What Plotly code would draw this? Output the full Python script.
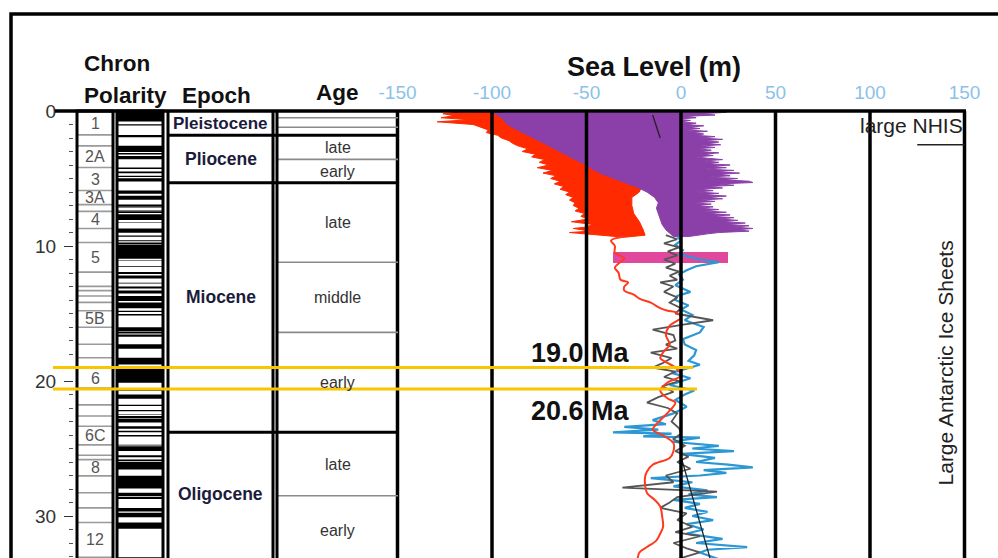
import plotly.graph_objects as go

W, H = 998, 558
FONT = "Liberation Sans, Arial, sans-serif"

# ---------------- data ----------------
# sea-level axis ticks (m)
sl_ticks = [-150, -100, -50, 0, 50, 100, 150]
sl_ticktext = ["-150", "-100", "-50", "0", "50", "100", "150"]
age_ticks = [0, 5, 10, 15, 20, 25, 30]
age_ticktext = ["0", "", "10", "", "20", "", "30"]
age_minor_ticks = list(range(0, 34))

# epochs (Ma)
epoch_names = ["Pleistocene", "Pliocene", "Miocene", "Oligocene"]
epoch_top = [0.0, 1.8, 5.32, 23.8]
epoch_base = [1.8, 5.32, 23.8, 33.7]
epoch_label_age = [0.9, 3.56, 13.8, 28.4]

# epoch subdivisions
sub_names = ["late", "early", "late", "middle", "early", "late", "early"]
sub_top = [1.8, 3.58, 5.32, 11.2, 16.4, 23.8, 28.5]
sub_base = [3.58, 5.32, 11.2, 16.4, 23.8, 28.5, 33.7]
pleistocene_lines = [0.5, 1.2]

# magnetic polarity: normal intervals (Ma)
norm_top = [0.0, 0.99, 1.77, 2.581, 3.11, 3.33, 4.18, 4.48, 4.80, 4.98, 5.894, 6.269,
            6.935, 7.135, 7.341, 7.432, 7.65, 8.225, 8.699, 9.23, 9.58, 9.74, 9.92,
            11.052, 11.476, 11.935, 12.184, 12.678, 12.775, 12.991, 13.302, 13.703,
            14.178, 14.8, 15.034, 16.014, 16.327, 16.556, 17.277, 18.281, 19.048,
            20.518, 20.996, 21.768, 22.151, 22.459, 22.588, 22.804, 23.353, 23.677,
            23.999, 24.73, 24.835, 25.496, 25.823, 25.992, 27.027, 28.283, 28.578,
            29.401, 29.765, 30.479, 33.058]
norm_base = [0.78, 1.07, 1.95, 3.04, 3.22, 3.58, 4.29, 4.62, 4.89, 5.23, 6.137, 6.567,
             7.091, 7.170, 7.375, 7.562, 8.072, 8.257, 9.025, 9.308, 9.642, 9.88, 10.949,
             11.099, 11.531, 12.078, 12.401, 12.708, 12.819, 13.139, 13.51, 14.076,
             14.612, 14.888, 15.155, 16.293, 16.488, 16.726, 17.615, 18.781, 20.131,
             20.725, 21.32, 21.859, 22.248, 22.493, 22.75, 23.069, 23.535, 23.8,
             24.118, 24.781, 25.183, 25.648, 25.951, 26.554, 27.972, 28.512, 28.745,
             29.662, 30.098, 30.939, 33.545]

# chron boundaries and labels
chron_bounds = [1.77, 2.581, 4.18, 5.894, 6.935, 7.432, 8.699, 9.74, 11.935, 12.991,
                13.302, 13.703, 14.178, 14.8, 16.014, 17.277, 18.281, 19.048, 20.518,
                21.768, 22.588, 23.353, 24.73, 25.496, 25.823, 27.027, 28.283, 29.401,
                30.479, 33.058]
chron_names = ["1", "2A", "3", "3A", "4", "5", "5B", "6", "6C", "8", "12"]
chron_label_age = [0.9, 3.38, 5.04, 6.41, 8.07, 10.84, 15.4, 19.78, 24.04, 26.42, 31.77]

# red envelope (0-9.3 Ma): left edge and right edge
red_left_age = [0.1, 0.2, 0.35, 0.5, 0.65, 0.8, 1.0, 1.2, 1.4, 1.6, 1.8, 2.0, 2.2, 2.4,
                2.6, 2.8, 3.0, 3.2, 3.4, 3.6, 3.8, 4.0, 4.2, 4.4, 4.6, 4.8, 5.0, 5.2,
                5.4, 5.6, 5.8, 6.0, 6.2, 6.4, 6.6, 6.8, 7.0, 7.2, 7.4, 7.6, 7.8, 8.0,
                8.2, 8.4, 8.6, 8.7, 8.9, 9.0, 9.2, 9.35]
red_left_sl = [-118, -126, -120, -127, -112, -129, -110, -106, -102, -103, -97, -95, -91,
               -89, -86, -81, -84, -77, -79, -72, -75, -70, -76, -68, -73, -66, -69, -64,
               -67, -62, -64, -59, -61, -57, -59, -56, -57, -54, -56, -51, -53, -49, -58,
               -47, -50, -57, -48, -59, -42, -34]
red_right_age = [9.35, 9.2, 8.8, 8.2, 7.6, 7.0, 6.4, 6.0, 5.6, 5.0, 4.0, 3.0, 2.0, 1.0, 0.1]
red_right_sl = [-30, -19, -20, -22, -25, -26, -26, -22, -21, -28, -42, -56, -70, -84, -95]

# purple envelope (0-9.3 Ma)
pur_right_age = [0.1, 0.2, 0.3, 0.4, 0.5, 0.6, 0.7, 0.8, 0.9, 1.0, 1.1, 1.2, 1.3, 1.4,
                 1.5, 1.6, 1.7, 1.8, 1.9, 2.0, 2.1, 2.2, 2.3, 2.4, 2.5, 2.6, 2.7, 2.8,
                 2.9, 3.0, 3.1, 3.2, 3.3, 3.4, 3.5, 3.6, 3.7, 3.8, 3.9, 4.0, 4.1, 4.2,
                 4.3, 4.4, 4.5, 4.6, 4.7, 4.8, 4.9, 5.0, 5.1, 5.2, 5.3, 5.4, 5.5, 5.6,
                 5.7, 5.8, 5.9, 6.0, 6.1, 6.2, 6.3, 6.4, 6.5, 6.6, 6.7, 6.8, 6.9, 7.0,
                 7.1, 7.2, 7.3, 7.4, 7.5, 7.6, 7.7, 7.8, 7.9, 8.0, 8.1, 8.2, 8.3, 8.4,
                 8.5, 8.6, 8.7, 8.8, 8.9, 9.0, 9.1, 9.2, 9.3]
pur_right_sl = [24, 10, 18, 2, 8, -2, 5, 0, 8, 3, 12, 4, 10, 2, 14, 6, 12, 8, 18, 10,
                22, 12, 20, 14, 21, 10, 18, 8, 16, 10, 20, 12, 17, 8, 14, 22, 12, 20,
                14, 26, 16, 24, 12, 28, 18, 31, 20, 26, 14, 30, 22, 36, 38, 20, 28, 14,
                22, 10, 17, 8, 20, 12, 24, 14, 22, 10, 18, 6, 16, 8, 17, 10, 20, 12,
                24, 14, 26, 16, 28, 20, 30, 22, 34, 24, 36, 28, 38, 30, 36, 20, 14, 8, 4]
pur_left_age = [9.3, 8.8, 8.4, 8.0, 7.6, 7.2, 6.8, 6.4, 6.0, 5.6, 5.3, 5.0, 4.6, 4.3,
                4.0, 3.6, 3.3, 3.0, 2.6, 2.3, 2.0, 1.6, 1.3, 1.0, 0.8, 0.5, 0.3, 0.1]
pur_left_sl = [-4, -8, -10, -11, -12, -13, -12, -14, -18, -24, -30, -36, -43, -47, -50,
               -56, -60, -64, -70, -74, -78, -84, -88, -92, -93, -95, -97, -100]

# short trend segments
trend1_age = [0.3, 2.0]
trend1_sl = [-15, -11]
trend2_age = [25.6, 33.2]
trend2_sl = [0, 15.5]

# magenta band
mag_age = 10.85
mag_from = -36
mag_to = 25
mag_width = 0.75

# red curve (9.3-33 Ma)
redl_age = [9.3, 9.6, 10.0, 10.5, 10.9, 11.3, 11.6, 12.0, 12.5, 12.7, 13.0, 13.3, 13.6,
            13.9, 14.2, 14.6, 14.8, 14.9, 15.3, 15.9, 16.6, 17.3, 17.8, 18.3, 18.6, 19.0,
            19.6, 20.1, 20.7, 21.3, 21.6, 22.2, 22.7, 23.2, 23.6, 24.0, 24.6, 25.2, 25.7,
            26.2, 26.7, 27.1, 27.7, 28.3, 28.8, 29.3, 30.0, 30.8, 31.3, 31.8, 32.3, 32.7,
            33.2]
redl_sl = [-30, -37, -35, -35, -30, -33, -35, -33, -32, -28, -30, -30, -25, -22, -16,
           -11, -7, -3, 0, -6, -8, -6, -9, -11, -8, -3, 0, -7, -11, -7, -3, -6, -9.5,
           -13, -15, -10, -4, -4, -6, -15, -18, -19, -19, -18, -14, -11, -10, -9.5, -11,
           -13, -18, -22, -23]

# blue curve
blue_age = [9.3, 9.6, 9.9, 10.3, 10.6, 11.0, 11.2, 11.5, 11.8, 12.1, 12.5, 12.9, 13.4,
            13.7, 14.0, 14.4, 14.7, 15.1, 15.5, 16.0, 16.4, 16.9, 17.3, 17.7, 18.1, 18.5,
            18.8, 19.1, 19.4, 19.8, 20.1, 20.3, 20.7, 21.0, 21.4, 21.9, 22.4, 22.9, 23.2,
            23.4, 23.6, 23.8, 23.9, 24.1, 24.2, 24.5, 24.8, 25.0, 25.2, 25.4, 25.7, 26.0,
            26.2, 26.4, 26.6, 26.8, 27.0, 27.2, 27.5, 27.8, 28.1, 28.4, 28.6, 28.8, 29.1,
            29.4, 29.7, 30.0, 30.3, 30.6, 31.0, 31.3, 31.7, 32.0, 32.3, 32.5, 32.7, 33.2]
blue_sl = [-2, 0, -3, 1, -1, 10, 20, 8, 3, -1, 1, -3, 5, -2, -3, 4, 0, 6, 2, 12, 10, 1,
           2, 8, 7, 4, 10, 3, -5, 5, -2, -6, 7, 2, -3, 3, -4, -15, -8, -30, -12, -36, -5,
           -20, 10, -5, 20, 6, 28, 0, 18, 8, 25, 38, 12, 24, 10, -16, 6, -4, 14, 4, 19,
           -4, 10, 2, 14, 6, 17, 3, 12, 3, 22, 8, 35, 14, 10, 20]

# gray curve
gray_age = [9.2, 9.5, 9.8, 10.1, 10.4, 10.7, 11.0, 11.3, 11.6, 11.9, 12.2, 12.5, 12.7,
            13.0, 13.4, 13.8, 14.2, 14.6, 15.0, 15.5, 15.8, 16.2, 16.6, 17.0, 17.3, 17.6,
            17.9, 18.3, 18.7, 19.0, 19.3, 19.7, 20.0, 20.4, 20.8, 21.2, 21.6, 22.0, 22.4,
            23.0, 23.5, 23.9, 24.3, 24.8, 25.2, 25.6, 26.0, 26.5, 27.0, 27.5, 27.9, 28.2,
            28.6, 29.0, 29.4, 29.8, 30.3, 30.8, 31.2, 31.5, 32.0, 32.4, 32.7, 33.2]
gray_sl = [-8, -2, -9, -1, -7, -2, -9, -3, -8, -1, -6, -2, -11, -4, -9, -2, -6, 0, -3,
           17, 2, -15, -4, -3, -8, -2, -16, -5, -10, -15, -3, -9, -1, -10, -4, -12, -18,
           -7, -2, -5, -1, 0, -4, 2, -3, 4, -2, 5, -8, -4, -31, 19, -2, -6, -11, 3, -2,
           6, -3, 10, -4, 3, 10, -2]

# marked ages
event_ages = [19.0, 20.6]
event_text = ["19.0 Ma", "20.6 Ma"]

# ---------------- geometry helpers ----------------
X0_PX, X_SCALE = 681.0, 1.89          # px of 0 m, px per metre
Y0_PX, Y_SCALE = 111.0, 13.5          # px of 0 Ma, px per Ma
x_range = [(0 - X0_PX) / X_SCALE, (W - X0_PX) / X_SCALE]
y_range = [(H - Y0_PX) / Y_SCALE, (0 - Y0_PX) / Y_SCALE]


def px(x):
    return x / W


def py(y):
    return 1 - y / H


CHRON_X = (77, 113)
POL_X = (117, 163)
EPOCH_X = (168, 273)
SUB_X = (277, 398)
Y_BOTTOM = 40

fig = go.Figure()

# red envelope
fig.add_trace(go.Scatter(x=red_left_sl + red_right_sl, y=red_left_age + red_right_age,
                         fill="toself", fillcolor="#ff2a00", mode="lines",
                         line=dict(color="#ff2a00", width=1), hoverinfo="skip"))
# purple envelope
fig.add_trace(go.Scatter(x=pur_right_sl + pur_left_sl, y=pur_right_age + pur_left_age,
                         fill="toself", fillcolor="#8b3fa8", mode="lines",
                         line=dict(color="#8b3fa8", width=1), hoverinfo="skip"))
fig.add_trace(go.Scatter(x=trend1_sl, y=trend1_age, mode="lines",
                         line=dict(color="#222", width=1.3)))
# magenta band
fig.add_trace(go.Bar(x=[mag_to - mag_from], base=[mag_from], y=[mag_age], width=[mag_width],
                     orientation="h", marker=dict(color="#e2479e", line=dict(width=0))))
fig.add_trace(go.Scatter(x=blue_sl, y=blue_age, mode="lines",
                         line=dict(color="#2b97d4", width=2.2)))
fig.add_trace(go.Scatter(x=gray_sl, y=gray_age, mode="lines",
                         line=dict(color="#555555", width=1.8)))
fig.add_trace(go.Scatter(x=redl_sl, y=redl_age, mode="lines",
                         line=dict(color="#ff3a1c", width=2), line_shape="spline"))
fig.add_trace(go.Scatter(x=trend2_sl, y=trend2_age, mode="lines",
                         line=dict(color="#222", width=1.3)))

shapes = []
# outer frame
shapes.append(dict(type="rect", xref="paper", yref="paper", x0=px(11), x1=1.05,
                   y0=-0.05, y1=py(14), line=dict(color="black", width=3.5)))
# top line at 0 Ma
shapes.append(dict(type="line", xref="paper", yref="y", x0=px(55), x1=px(966),
                   y0=0, y1=0, line=dict(color="black", width=3.5)))
# vertical sea-level rules
for v in sl_ticks:
    shapes.append(dict(type="line", xref="x", yref="y", x0=v, x1=v, y0=0, y1=Y_BOTTOM,
                       line=dict(color="black", width=3.5)))

# chron number column
for b in chron_bounds:
    shapes.append(dict(type="line", xref="paper", yref="y", x0=px(CHRON_X[0]),
                       x1=px(CHRON_X[1]), y0=b, y1=b, line=dict(color="#9a9a9a", width=1.6)))
shapes.append(dict(type="rect", xref="paper", yref="y", x0=px(CHRON_X[0]), x1=px(CHRON_X[1]),
                   y0=0, y1=Y_BOTTOM, line=dict(color="black", width=3)))
# polarity column
for t, b in zip(norm_top, norm_base):
    shapes.append(dict(type="rect", xref="paper", yref="y", x0=px(POL_X[0]), x1=px(POL_X[1]),
                       y0=t, y1=b, fillcolor="black", line=dict(width=0)))
shapes.append(dict(type="rect", xref="paper", yref="y", x0=px(POL_X[0]), x1=px(POL_X[1]),
                   y0=0, y1=Y_BOTTOM, line=dict(color="black", width=3)))

# subdivision (age) lines
for t in sub_top + pleistocene_lines:
    shapes.append(dict(type="line", xref="paper", yref="y", x0=px(SUB_X[0]), x1=px(SUB_X[1]),
                       y0=t, y1=t, line=dict(color="#8a8a8a", width=1.6)))
# epoch boundaries (thick, across epoch + age columns)
for t in epoch_top[1:]:
    shapes.append(dict(type="line", xref="paper", yref="y", x0=px(EPOCH_X[0]),
                       x1=px(SUB_X[1]), y0=t, y1=t, line=dict(color="black", width=3)))
for xv in (EPOCH_X[0], EPOCH_X[1], SUB_X[0]):
    shapes.append(dict(type="line", xref="paper", yref="y", x0=px(xv), x1=px(xv),
                       y0=0, y1=Y_BOTTOM, line=dict(color="black", width=3)))

# large NHIS marker
shapes.append(dict(type="line", xref="x", yref="y", x0=125, x1=150, y0=2.5, y1=2.5,
                   line=dict(color="#222", width=1.5)))

# event lines
for a, xe in zip(event_ages, [693, 697]):
    shapes.append(dict(type="line", xref="paper", yref="y", x0=px(53), x1=px(xe),
                       y0=a, y1=a, line=dict(color="#f7c600", width=3)))

fig.update_layout(shapes=shapes)

ann = []


def text(x, y, s, size, color="#111", bold=False, xref="paper", yref="paper",
         xanchor="center", angle=0, yshift=0):
    ann.append(dict(x=x, y=y, xref=xref, yref=yref, text=f"<b>{s}</b>" if bold else s,
                    showarrow=False, xanchor=xanchor, yanchor="middle", textangle=angle,
                    yshift=yshift, font=dict(family=FONT, size=size, color=color)))


# headers
text(px(82), py(64), "Chron", 22.5, bold=True, xanchor="left")
text(px(82), py(95), "Polarity", 22.5, bold=True, xanchor="left")
text(px(180), py(95), "Epoch", 22.5, bold=True, xanchor="left")
text(px(314), py(93), "Age", 22.5, bold=True, xanchor="left")
text(px(654), py(67), "Sea Level (m)", 27, bold=True)

# epoch and subdivision labels
for name, a in zip(epoch_names, epoch_label_age):
    text(px((EPOCH_X[0] + EPOCH_X[1]) / 2), a, name, 17 if name == "Pleistocene" else 17.5,
         color="#1b1b3c", bold=True, yref="y")
for name, t, b in zip(sub_names, sub_top, sub_base):
    text(px((SUB_X[0] + SUB_X[1]) / 2), (t + b) / 2, name, 16, color="#333", yref="y")

# chron numbers
for name, a in zip(chron_names, chron_label_age):
    text(px((CHRON_X[0] + CHRON_X[1]) / 2), a, name, 16, color="#555", yref="y")

# event labels
text(px(632), event_ages[0], event_text[0], 27, bold=True, xanchor="right", yref="y",
     yshift=15)
text(px(632), event_ages[1], event_text[1], 27, bold=True, xanchor="right", yref="y",
     yshift=-22)

# ice-sheet annotations
text(150, 1.1, "large NHIS", 21, color="#222", xref="x", yref="y", xanchor="right")
text(139.7, 18.7, "Large Antarctic Ice Sheets", 21, color="#222", xref="x", yref="y",
     angle=-90)

fig.update_layout(
    annotations=ann,
    width=W, height=H,
    margin=dict(l=0, r=0, t=0, b=0),
    paper_bgcolor="white", plot_bgcolor="white",
    showlegend=False,
    bargap=0,
    xaxis=dict(domain=[0, 1], range=x_range, side="top", anchor="free", position=py(Y0_PX),
               tickvals=sl_ticks, ticktext=sl_ticktext, ticks="", showgrid=False,
               zeroline=False, showline=False, ticklabelstandoff=8,
               tickfont=dict(family=FONT, size=19, color="#8cc2e8")),
    yaxis=dict(domain=[0, 1], range=y_range, anchor="free", position=px(73),
               tickvals=age_ticks, ticktext=age_ticktext, ticks="outside", ticklen=9,
               tickwidth=1.3, tickcolor="#333", showgrid=False, zeroline=False,
               showline=False, ticklabelstandoff=4,
               tickfont=dict(family=FONT, size=19, color="#333"),
               minor=dict(tickmode="array", tickvals=age_minor_ticks, ticks="outside",
                          ticklen=4, tickcolor="#555", tickwidth=1.2, showgrid=False)),
)

fig.write_html("out.html")
